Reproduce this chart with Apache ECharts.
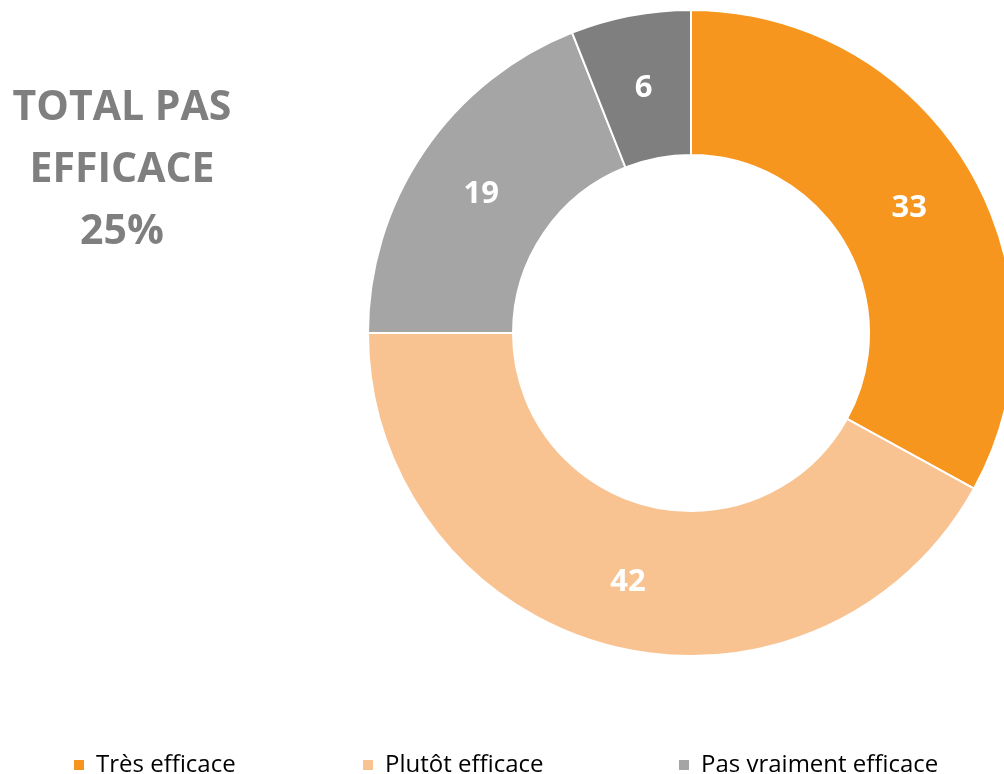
<!DOCTYPE html>
<html>
<head>
<meta charset="utf-8">
<script src="https://cdn.jsdelivr.net/npm/echarts@6/dist/echarts.min.js"></script>
<style>
  html, body { margin: 0; padding: 0; background: #fff; }
</style>
</head>
<body>
<div id="chart" style="width: 1004px; height: 774px;"></div>
<script>
// données du graphique
const categories = ['Très efficace', 'Plutôt efficace', 'Pas vraiment efficace', 'Pas du tout efficace'];
const values = [33, 42, 19, 6];
const colors = ['#F7961E', '#F9C291', '#A5A5A5', '#7F7F7F'];
const totalLines = ['TOTAL PAS', 'EFFICACE', '25%'];

const chart = echarts.init(document.getElementById('chart'));

// une légende par élément pour garder les positions de l'original
const legendLeft = [72, 361, 677];
const legends = legendLeft.map((x, i) => ({
  data: [categories[i]],
  left: x,
  top: 753,
  padding: 0,
  itemWidth: 12,
  itemHeight: 12,
  itemGap: 0,
  icon: 'rect',
  textStyle: { fontFamily: 'Open Sans', fontSize: 24, color: '#000', padding: [0, 0, 0, 6] }
}));

const option = {
  animation: false,
  color: colors,
  title: {
    text: totalLines.join('\n'),
    left: 117,
    top: 72,
    textAlign: 'center',
    textStyle: {
      fontFamily: 'Open Sans',
      fontWeight: 'bold',
      fontSize: 41,
      lineHeight: 62,
      color: '#7F7F7F'
    }
  },
  legend: legends,
  series: [
    {
      type: 'pie',
      center: [691, 333],
      radius: [178, 323],
      startAngle: 90,
      clockwise: true,
      itemStyle: { borderColor: '#fff', borderWidth: 2 },
      label: {
        show: true,
        position: 'inside',
        formatter: '{c}',
        color: '#fff',
        fontFamily: 'Open Sans',
        fontWeight: 'bold',
        fontSize: 31,
        offset: [0, 4]
      },
      labelLine: { show: false },
      data: categories.map((name, i) => ({ name: name, value: values[i] }))
    }
  ]
};

chart.setOption(option);
</script>
</body>
</html>
